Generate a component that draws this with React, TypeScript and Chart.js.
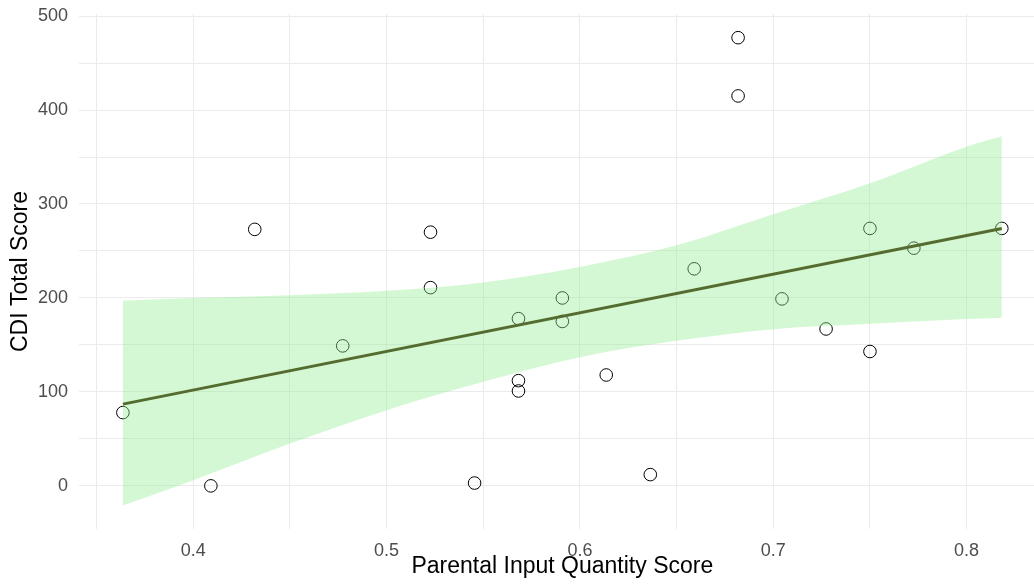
import React, { useEffect, useRef } from 'react';
import { Chart, registerables } from 'chart.js';

Chart.register(...registerables);

// Observed data points
const xValues = [0.3636, 0.4091, 0.4318, 0.4773, 0.5227, 0.5227, 0.5455, 0.5682, 0.5682, 0.5682, 0.5909, 0.5909, 0.6136, 0.6364, 0.6591, 0.6818, 0.6818, 0.7045, 0.7273, 0.75, 0.75, 0.7727, 0.8182];
const yValues = [78, 0, 273, 149, 270, 211, 3, 178, 112, 101, 200, 175, 118, 12, 231, 477, 415, 199, 167, 143, 274, 253, 274];

// Fitted line (linear smooth)
const fitX = [0.3636, 0.8182];
const fitY = [87, 274];

// Confidence band
const bandX = [0.3636, 0.4, 0.45, 0.5, 0.55, 0.6, 0.65, 0.7, 0.75, 0.8, 0.8182];
const bandUpper = [197, 200, 203, 207.6, 216.5, 233, 256, 289, 322, 361, 372];
const bandLower = [-21, 6, 45, 80.6, 110.7, 137, 154.4, 166.8, 172.5, 177.5, 179];

// Ticks
const xGridTicks = [0.35, 0.4, 0.45, 0.5, 0.55, 0.6, 0.65, 0.7, 0.75, 0.8];
const xLabelTicks = [0.4, 0.5, 0.6, 0.7, 0.8];
const yGridTicks = [0, 50, 100, 150, 200, 250, 300, 350, 400, 450, 500];
const yLabelTicks = [0, 100, 200, 300, 400, 500];

const FONT = "'Liberation Sans', Arial, sans-serif";

export default function App() {
  const ref = useRef<HTMLCanvasElement>(null);

  useEffect(() => {
    if (!ref.current) return;
    const chart = new Chart(ref.current, {
      type: 'scatter',
      data: {
        datasets: [
          {
            label: 'points',
            data: xValues.map((x, i) => ({ x, y: yValues[i] })),
            showLine: false,
            pointRadius: 6.3,
            pointBorderColor: '#000000',
            pointBackgroundColor: 'rgba(0,0,0,0)',
            pointBorderWidth: 1,
            order: 3,
          },
          {
            label: 'upper',
            data: bandX.map((x, i) => ({ x, y: bandUpper[i] })),
            showLine: true,
            borderColor: 'rgba(0,0,0,0)',
            borderWidth: 1,
            pointRadius: 0,
            fill: '+1',
            backgroundColor: 'rgba(144,238,144,0.4)',
            cubicInterpolationMode: 'monotone',
            order: 2,
          },
          {
            label: 'lower',
            data: bandX.map((x, i) => ({ x, y: bandLower[i] })),
            showLine: true,
            borderColor: 'rgba(0,0,0,0)',
            borderWidth: 1,
            pointRadius: 0,
            fill: false,
            cubicInterpolationMode: 'monotone',
            order: 2,
          },
          {
            label: 'fit',
            data: fitX.map((x, i) => ({ x, y: fitY[i] })),
            showLine: true,
            borderColor: '#556B2F',
            borderWidth: 3,
            pointRadius: 0,
            fill: false,
            order: 1,
          },
        ],
      } as any,
      options: {
        responsive: false,
        animation: false,
        devicePixelRatio: 1,
        layout: { padding: { top: 14, left: 0, right: 0, bottom: 0 } },
        plugins: {
          legend: { display: false },
          tooltip: { enabled: false },
        },
        scales: {
          x: {
            type: 'linear',
            min: 0.3409,
            max: 0.8409,
            afterBuildTicks: (axis: any) => {
              axis.ticks = xGridTicks.map((v) => ({ value: v }));
            },
            afterFit: (s: any) => {
              s.height = 57;
            },
            ticks: {
              autoSkip: false,
              maxRotation: 0,
              padding: 11,
              color: '#4d4d4d',
              font: { family: FONT, size: 18 },
              callback: (v: any) => {
                const n = Number(v);
                return xLabelTicks.some((l) => Math.abs(l - n) < 1e-9) ? n.toFixed(1) : '';
              },
            },
            grid: { color: '#ebebeb', lineWidth: 1, drawTicks: false },
            border: { display: false },
            title: {
              display: true,
              text: 'Parental Input Quantity Score',
              color: '#000000',
              font: { family: FONT, size: 23, lineHeight: 1 },
              padding: { top: 0, bottom: 7.5 },
            },
          },
          y: {
            type: 'linear',
            min: -45.9,
            max: 502.2,
            afterBuildTicks: (axis: any) => {
              axis.ticks = yGridTicks.map((v) => ({ value: v }));
            },
            afterFit: (s: any) => {
              s.width = 79;
            },
            ticks: {
              autoSkip: false,
              padding: 11,
              color: '#4d4d4d',
              font: { family: FONT, size: 18, lineHeight: 0.2 },
              callback: (v: any) => {
                const n = Number(v);
                return yLabelTicks.includes(n) ? String(n) : '';
              },
            },
            grid: { color: '#ebebeb', lineWidth: 1, drawTicks: false },
            border: { display: false },
            title: {
              display: true,
              text: 'CDI Total Score',
              color: '#000000',
              font: { family: FONT, size: 23, lineHeight: 1 },
              padding: { top: 9.5, bottom: 0 },
            },
          },
        },
      } as any,
    });
    return () => chart.destroy();
  }, []);

  return (
    <div
      style={{
        position: 'fixed',
        left: 0,
        top: 0,
        width: 1034,
        height: 586,
        overflow: 'hidden',
        background: '#ffffff',
      }}
    >
      <canvas ref={ref} width={1053} height={586} style={{ display: 'block' }} />
    </div>
  );
}
